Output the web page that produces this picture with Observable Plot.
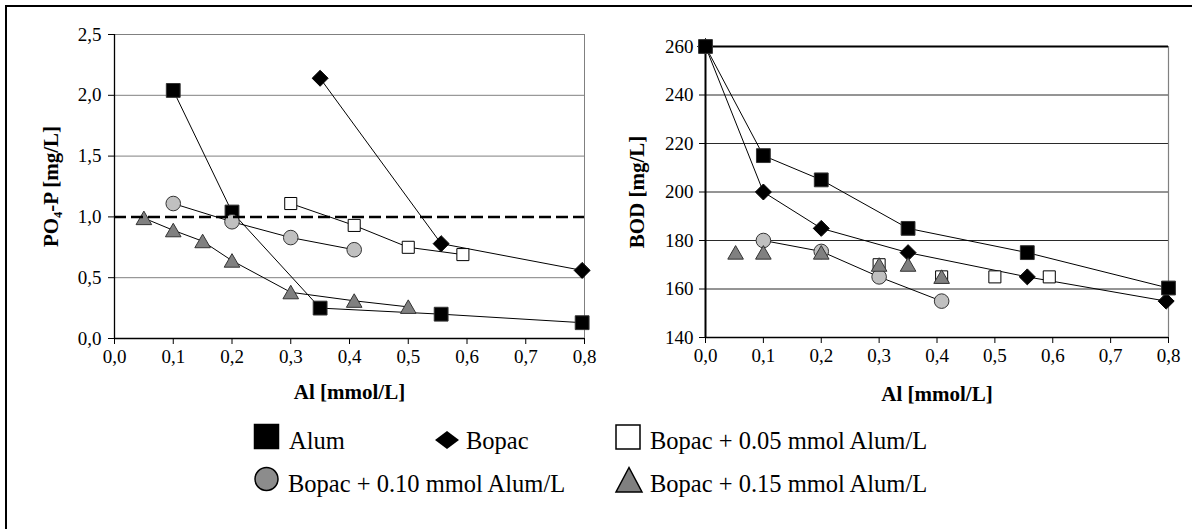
<!DOCTYPE html>
<html>
<head>
<meta charset="utf-8">
<script src="https://cdn.jsdelivr.net/npm/d3@7"></script>
<script src="https://cdn.jsdelivr.net/npm/@observablehq/plot@0.6"></script>
<style>
  html, body { margin: 0; padding: 0; background: #fff; }
  #page { position: relative; width: 1195px; height: 529px; overflow: hidden; background: #fff; font-family: 'Liberation Serif'; }
  #frame { position: absolute; left: 5px; top: 5px; width: 1185px; height: 540px; border-top: 2.5px solid #000; border-left: 2.5px solid #000; }
  .panel { position: absolute; top: 0; }
  #left { left: 0; }
  #right { left: 600px; }
  #legend { position: absolute; left: 0; top: 0; }
</style>
</head>
<body>
<div id="page">
  <div id="frame"></div>
  <div id="left" class="panel"></div>
  <div id="right" class="panel"></div>
  <svg id="legend" width="1195" height="529"></svg>
</div>
<script>
// ---------- data ----------
const seriesNames = ["Alum", "Bopac", "Bopac + 0.05 mmol Alum/L", "Bopac + 0.10 mmol Alum/L", "Bopac + 0.15 mmol Alum/L"];

const xTicks = [0, 0.1, 0.2, 0.3, 0.4, 0.5, 0.6, 0.7, 0.8];
const poTicks = [0, 0.5, 1.0, 1.5, 2.0, 2.5];
const bodTicks = [140, 160, 180, 200, 220, 240, 260];
const poLimit = [1.0];

// PO4-P [mg/L]
const alumPoX  = [0.1, 0.2, 0.35, 0.556, 0.796];
const alumPoY  = [2.04, 1.04, 0.25, 0.20, 0.13];
const bopacPoX = [0.35, 0.556, 0.796];
const bopacPoY = [2.14, 0.78, 0.56];
const b05PoX   = [0.3, 0.408, 0.5, 0.593];
const b05PoY   = [1.11, 0.93, 0.75, 0.69];
const b10PoX   = [0.1, 0.2, 0.3, 0.408];
const b10PoY   = [1.11, 0.96, 0.83, 0.73];
const b15PoX   = [0.05, 0.1, 0.15, 0.2, 0.3, 0.408, 0.5];
const b15PoY   = [0.99, 0.89, 0.80, 0.64, 0.38, 0.31, 0.26];

// BOD [mg/L]
const alumBodX  = [0, 0.1, 0.2, 0.35, 0.556, 0.8];
const alumBodY  = [260, 215, 205, 185, 175, 160.4];
const bopacBodX = [0, 0.1, 0.2, 0.35, 0.556, 0.796];
const bopacBodY = [260, 200, 185, 175, 165, 155];
const b05BodX   = [0.3, 0.408, 0.5, 0.594];
const b05BodY   = [170, 165, 165, 165];
const b10BodX   = [0.1, 0.2, 0.3, 0.408];
const b10BodY   = [180, 175.5, 165, 155];
const b15BodX   = [0.052, 0.1, 0.2, 0.3, 0.35, 0.408];
const b15BodY   = [175, 175, 175, 170, 170, 165];

const axisLabels = {xLeft: "Al [mmol/L]", yLeft: "PO₄-P [mg/L]", xRight: "Al [mmol/L]", yRight: "BOD [mg/L]"};

// ---------- styles ----------
const FONT = "Liberation Serif";
const styles = [
  {symbol: "square",   r: 7.8, fill: "#000",    stroke: "#333", dy: 0},
  {symbol: "diamond2", r: 7.2, fill: "#000",    stroke: "#000", dy: 0},
  {symbol: "square",   r: 6.8, fill: "#fff",    stroke: "#000", dy: 0},
  {symbol: "circle",   r: 7.3, fill: "#c0c0c0", stroke: "#333", dy: 0},
  {symbol: "triangle", r: 5.8, fill: "#808080", stroke: "#333", dy: 2}
];

const fmtComma = v => d3.format(".1f")(v).replace(".", ",");
const toRows = (xs, ys) => xs.map((x, i) => ({x, y: ys[i]}));

function seriesMarks(xs, ys, st, connect) {
  const rows = toRows(xs, ys);
  const m = [];
  if (connect) m.push(Plot.line(rows, {x: "x", y: "y", stroke: "#000", strokeWidth: 1}));
  m.push(Plot.dot(rows, {x: "x", y: "y", symbol: st.symbol, r: st.r, fill: st.fill, stroke: st.stroke, strokeWidth: 1, dy: st.dy}));
  return m;
}

const baseStyle = {fontFamily: FONT, fontSize: "19px", color: "#000", background: "transparent", overflow: "visible"};

// ---------- left chart ----------
const leftChart = Plot.plot({
  width: 600, height: 420,
  marginLeft: 114, marginRight: 16, marginTop: 34, marginBottom: 82,
  x: {domain: [0, 0.8]},
  y: {domain: [0, 2.5]},
  style: baseStyle,
  marks: [
    Plot.ruleY(poTicks.filter(d => d !== 0 && d !== 1.0), {stroke: "#808080", strokeWidth: 1}),
    Plot.ruleX([0.8], {stroke: "#808080", strokeWidth: 1}),
    Plot.axisX({ticks: xTicks, tickFormat: fmtComma, tickSize: 6, tickPadding: 5, label: null, fontSize: 19, fontFamily: FONT}),
    Plot.axisY({ticks: poTicks, tickFormat: fmtComma, tickSize: 6, tickPadding: 7, label: null, fontSize: 19, fontFamily: FONT}),
    Plot.ruleX([0], {stroke: "#000", strokeWidth: 1.3}),
    Plot.ruleY([0], {stroke: "#000", strokeWidth: 1.3}),
    ...seriesMarks(alumPoX, alumPoY, styles[0], true),
    ...seriesMarks(bopacPoX, bopacPoY, styles[1], true),
    ...seriesMarks(b05PoX, b05PoY, styles[2], true),
    ...seriesMarks(b10PoX, b10PoY, styles[3], true),
    ...seriesMarks(b15PoX, b15PoY, styles[4], true),
    Plot.ruleY(poLimit, {stroke: "#000", strokeWidth: 2.5, strokeDasharray: "12,5"}),
    Plot.text([axisLabels.xLeft], {text: d => d, frameAnchor: "bottom", textAnchor: "middle", lineAnchor: "middle", dy: 54, fontWeight: "bold", fontSize: 21, fontFamily: FONT}),
    Plot.text([axisLabels.yLeft], {text: d => d, frameAnchor: "left", textAnchor: "middle", lineAnchor: "middle", dx: -63, rotate: -90, fontWeight: "bold", fontSize: 21, fontFamily: FONT})
  ]
});
document.getElementById("left").appendChild(leftChart);

// ---------- right chart ----------
const rightChart = Plot.plot({
  width: 595, height: 420,
  marginLeft: 105, marginRight: 27, marginTop: 46, marginBottom: 83,
  x: {domain: [0, 0.8]},
  y: {domain: [140, 260]},
  style: baseStyle,
  marks: [
    Plot.ruleY(bodTicks.filter(d => d !== 140 && d !== 260), {stroke: "#2a2a2a", strokeWidth: 1}),
    Plot.ruleX([0.8], {stroke: "#808080", strokeWidth: 1.2}),
    Plot.ruleY([260], {stroke: "#000", strokeWidth: 2}),
    Plot.axisX({ticks: xTicks, tickFormat: fmtComma, tickSize: 6, tickPadding: 5, label: null, fontSize: 19, fontFamily: FONT}),
    Plot.axisY({ticks: bodTicks, tickFormat: d => String(d), tickSize: 6, tickPadding: 6, label: null, fontSize: 19, fontFamily: FONT}),
    Plot.ruleX([0], {stroke: "#000", strokeWidth: 2}),
    Plot.ruleY([140], {stroke: "#000", strokeWidth: 1.5}),
    ...seriesMarks(bopacBodX, bopacBodY, styles[1], true),
    ...seriesMarks(alumBodX, alumBodY, styles[0], true),
    ...seriesMarks(b05BodX, b05BodY, styles[2], false),
    ...seriesMarks(b10BodX, b10BodY, styles[3], true),
    ...seriesMarks(b15BodX, b15BodY, styles[4], false),
    Plot.text([axisLabels.xRight], {text: d => d, frameAnchor: "bottom", textAnchor: "middle", lineAnchor: "middle", dy: 57, fontWeight: "bold", fontSize: 21, fontFamily: FONT}),
    Plot.text([axisLabels.yRight], {text: d => d, frameAnchor: "left", textAnchor: "middle", lineAnchor: "middle", dx: -68, rotate: -90, fontWeight: "bold", fontSize: 21, fontFamily: FONT})
  ]
});
document.getElementById("right").appendChild(rightChart);

// ---------- legend ----------
const lg = d3.select("#legend");
const legendItems = [
  {cx: 266.5, cy: 436.5, tx: 289, ty: 449, shape: "square",   fill: "#000",    stroke: "#000"},
  {cx: 447,   cy: 440,   tx: 466, ty: 449, shape: "diamond",  fill: "#000",    stroke: "#000"},
  {cx: 628,   cy: 437,   tx: 650, ty: 449, shape: "square",   fill: "#fff",    stroke: "#000"},
  {cx: 266.5, cy: 479,   tx: 288, ty: 492, shape: "circle",   fill: "#8c8c8c", stroke: "#000"},
  {cx: 629,   cy: 480,   tx: 650, ty: 492, shape: "triangle", fill: "#808080", stroke: "#000"}
];
legendItems.forEach((it, i) => {
  if (it.shape === "square") {
    lg.append("rect").attr("x", it.cx - 12).attr("y", it.cy - 12).attr("width", 24).attr("height", 24)
      .attr("fill", it.fill).attr("stroke", it.stroke).attr("stroke-width", 1.5);
  } else if (it.shape === "diamond") {
    lg.append("path").attr("d", `M${it.cx},${it.cy - 9}L${it.cx + 12},${it.cy}L${it.cx},${it.cy + 9}L${it.cx - 12},${it.cy}Z`)
      .attr("fill", it.fill);
  } else if (it.shape === "circle") {
    lg.append("circle").attr("cx", it.cx).attr("cy", it.cy).attr("r", 11.5)
      .attr("fill", it.fill).attr("stroke", it.stroke).attr("stroke-width", 1.5);
  } else if (it.shape === "triangle") {
    lg.append("path").attr("d", `M${it.cx},${it.cy - 12.5}L${it.cx + 13},${it.cy + 12}L${it.cx - 13},${it.cy + 12}Z`)
      .attr("fill", it.fill).attr("stroke", it.stroke).attr("stroke-width", 1.5);
  }
  lg.append("text").attr("x", it.tx).attr("y", it.ty)
    .attr("font-family", FONT).attr("font-size", 24.5)
    .attr("fill", "#000").text(seriesNames[i]);
});
</script>
</body>
</html>
